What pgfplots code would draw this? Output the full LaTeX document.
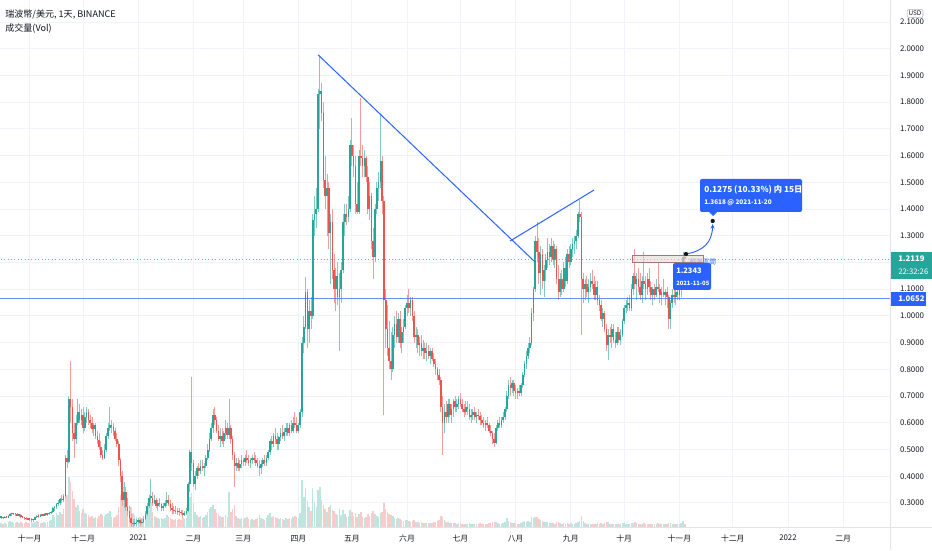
\documentclass[border=0pt]{standalone}
\usepackage{fontspec}
\setmainfont{Noto Sans CJK SC}
\usepackage{pgfplots}
\usepackage{pgfplotstable}
\pgfplotsset{compat=1.18}
\usetikzlibrary{arrows.meta}
\definecolor{tvgreen}{HTML}{26A69A}
\definecolor{tvred}{HTML}{EF5350}
\definecolor{wickg}{HTML}{7FCAC2}
\definecolor{wickr}{HTML}{F39C9A}
\definecolor{volg}{HTML}{BFE5E1}
\definecolor{volr}{HTML}{FACBCA}
\definecolor{tvblue}{HTML}{2962FF}
\definecolor{gridc}{HTML}{F0F3FA}
\definecolor{axc}{HTML}{E0E3EB}
\definecolor{txt}{HTML}{131722}
\pgfplotstableread{
d o h l c v
-16 0.245 0.250 0.240 0.246 4
-15 0.246 0.249 0.241 0.244 3
-14 0.244 0.250 0.242 0.247 4
-13 0.247 0.252 0.243 0.245 3
-12 0.245 0.255 0.244 0.253 5
-11 0.253 0.262 0.250 0.258 6
-10 0.258 0.264 0.253 0.260 5
-9 0.260 0.263 0.254 0.257 4
-8 0.257 0.262 0.252 0.259 4
-7 0.259 0.261 0.250 0.253 5
-6 0.253 0.258 0.247 0.255 4
-5 0.255 0.257 0.243 0.247 5
-4 0.247 0.252 0.242 0.245 4
-3 0.245 0.249 0.238 0.243 4
-2 0.243 0.246 0.236 0.240 5
-1 0.240 0.245 0.235 0.238 4
0 0.238 0.243 0.232 0.240 4
1 0.240 0.242 0.228 0.236 6
2 0.236 0.240 0.230 0.238 4
3 0.238 0.248 0.236 0.246 5
4 0.246 0.256 0.244 0.252 6
5 0.252 0.258 0.245 0.249 5
6 0.249 0.257 0.246 0.255 4
7 0.255 0.260 0.250 0.253 4
8 0.253 0.261 0.251 0.258 5
9 0.258 0.263 0.252 0.256 4
10 0.256 0.262 0.251 0.259 5
11 0.259 0.266 0.255 0.262 6
12 0.262 0.270 0.258 0.266 7
13 0.266 0.285 0.262 0.280 12
14 0.280 0.290 0.270 0.285 10
15 0.285 0.300 0.278 0.296 14
16 0.296 0.310 0.288 0.300 12
17 0.300 0.320 0.292 0.315 15
18 0.315 0.330 0.300 0.310 13
19 0.310 0.335 0.305 0.325 18
20 0.325 0.480 0.320 0.470 30
21 0.470 0.500 0.430 0.455 32
22 0.455 0.700 0.450 0.690 50
23 0.690 0.830 0.600 0.660 45
24 0.660 0.690 0.530 0.560 36
25 0.560 0.600 0.470 0.540 28
26 0.540 0.630 0.520 0.600 20
27 0.600 0.690 0.590 0.640 22
28 0.640 0.670 0.600 0.610 16
29 0.610 0.650 0.590 0.630 14
30 0.630 0.660 0.560 0.580 18
31 0.580 0.640 0.570 0.620 14
32 0.620 0.660 0.600 0.640 13
33 0.640 0.650 0.590 0.610 12
34 0.610 0.630 0.580 0.600 10
35 0.600 0.620 0.560 0.575 11
36 0.575 0.600 0.550 0.590 9
37 0.590 0.600 0.540 0.550 10
38 0.550 0.570 0.520 0.535 9
39 0.535 0.560 0.500 0.510 11
40 0.510 0.530 0.470 0.480 13
41 0.480 0.500 0.460 0.470 12
42 0.470 0.520 0.465 0.500 11
43 0.500 0.560 0.490 0.550 13
44 0.550 0.600 0.540 0.580 14
45 0.580 0.660 0.570 0.590 16
46 0.590 0.610 0.560 0.585 10
47 0.585 0.600 0.550 0.570 9
48 0.570 0.580 0.530 0.540 10
49 0.540 0.560 0.510 0.520 12
50 0.520 0.530 0.440 0.460 20
51 0.460 0.470 0.380 0.400 32
52 0.400 0.420 0.290 0.310 55
53 0.310 0.380 0.280 0.340 40
54 0.340 0.360 0.270 0.285 28
55 0.285 0.320 0.250 0.270 22
56 0.270 0.290 0.230 0.245 18
57 0.245 0.260 0.210 0.225 20
58 0.225 0.240 0.210 0.220 14
59 0.220 0.240 0.215 0.225 12
60 0.225 0.240 0.215 0.230 10
61 0.230 0.245 0.220 0.235 9
62 0.235 0.240 0.215 0.225 10
63 0.225 0.240 0.220 0.230 9
64 0.230 0.250 0.225 0.240 11
65 0.240 0.270 0.235 0.260 15
66 0.260 0.300 0.250 0.290 20
67 0.290 0.330 0.280 0.320 24
68 0.320 0.390 0.300 0.320 25
69 0.320 0.340 0.290 0.300 15
70 0.300 0.330 0.295 0.310 11
71 0.310 0.320 0.280 0.290 10
72 0.290 0.310 0.270 0.300 9
73 0.300 0.320 0.285 0.295 8
74 0.295 0.300 0.270 0.280 9
75 0.280 0.300 0.270 0.290 8
76 0.290 0.310 0.280 0.300 9
77 0.300 0.340 0.290 0.310 12
78 0.310 0.330 0.290 0.295 10
79 0.295 0.310 0.270 0.280 9
80 0.280 0.300 0.260 0.275 8
81 0.275 0.290 0.260 0.270 7
82 0.270 0.290 0.260 0.265 8
83 0.265 0.280 0.255 0.270 7
84 0.270 0.280 0.250 0.265 8
85 0.265 0.275 0.255 0.262 7
86 0.262 0.275 0.245 0.255 9
87 0.255 0.270 0.250 0.262 8
88 0.262 0.280 0.255 0.270 9
89 0.270 0.380 0.265 0.370 20
90 0.370 0.500 0.340 0.490 30
91 0.490 0.770 0.420 0.450 34
92 0.450 0.460 0.360 0.370 24
93 0.370 0.420 0.350 0.400 15
94 0.400 0.440 0.390 0.430 12
95 0.430 0.450 0.400 0.420 10
96 0.420 0.460 0.410 0.440 11
97 0.440 0.460 0.420 0.430 9
98 0.430 0.450 0.400 0.440 10
99 0.440 0.480 0.430 0.470 12
100 0.470 0.520 0.460 0.500 15
101 0.500 0.560 0.490 0.540 18
102 0.540 0.600 0.530 0.580 20
103 0.580 0.650 0.560 0.630 22
104 0.630 0.660 0.590 0.610 18
105 0.610 0.620 0.560 0.570 14
106 0.570 0.590 0.530 0.540 13
107 0.540 0.580 0.510 0.550 11
108 0.550 0.580 0.520 0.530 10
109 0.530 0.570 0.510 0.560 10
110 0.560 0.610 0.540 0.580 12
111 0.580 0.600 0.540 0.555 10
112 0.555 0.690 0.540 0.580 35
113 0.580 0.590 0.520 0.540 15
114 0.540 0.550 0.460 0.480 18
115 0.480 0.490 0.360 0.440 22
116 0.440 0.470 0.420 0.450 11
117 0.450 0.470 0.420 0.430 9
118 0.430 0.460 0.420 0.445 8
119 0.445 0.480 0.430 0.460 9
120 0.460 0.470 0.440 0.455 8
121 0.455 0.480 0.440 0.470 9
122 0.470 0.500 0.450 0.460 10
123 0.460 0.480 0.440 0.450 8
124 0.450 0.470 0.430 0.460 7
125 0.460 0.480 0.445 0.470 8
126 0.470 0.490 0.450 0.460 7
127 0.460 0.480 0.440 0.450 8
128 0.450 0.470 0.430 0.440 9
129 0.440 0.460 0.400 0.430 12
130 0.430 0.460 0.410 0.445 9
131 0.445 0.470 0.435 0.460 8
132 0.460 0.480 0.440 0.450 7
133 0.450 0.480 0.440 0.470 9
134 0.470 0.500 0.460 0.490 12
135 0.490 0.540 0.480 0.530 14
136 0.530 0.550 0.500 0.520 10
137 0.520 0.560 0.510 0.550 11
138 0.550 0.580 0.520 0.540 10
139 0.540 0.560 0.500 0.520 9
140 0.520 0.550 0.500 0.545 8
141 0.545 0.580 0.530 0.560 9
142 0.560 0.590 0.540 0.550 8
143 0.550 0.580 0.530 0.565 7
144 0.565 0.600 0.550 0.580 9
145 0.580 0.600 0.550 0.560 8
146 0.560 0.600 0.550 0.590 9
147 0.590 0.610 0.560 0.570 8
148 0.570 0.620 0.560 0.600 10
149 0.600 0.640 0.580 0.590 11
150 0.590 0.620 0.560 0.570 10
151 0.570 0.600 0.560 0.590 9
152 0.590 0.650 0.580 0.640 14
153 0.640 0.920 0.620 0.900 47
154 0.900 1.000 0.860 0.960 30
155 0.960 1.145 0.950 1.090 39
156 1.090 1.100 0.880 0.950 26
157 0.950 1.060 0.900 1.020 20
158 1.020 1.070 0.950 1.000 16
159 1.000 1.380 0.990 1.360 39
160 1.360 1.450 1.300 1.380 25
161 1.380 1.480 1.330 1.400 20
162 1.400 1.850 1.390 1.830 37
163 1.830 1.976 1.700 1.840 40
164 1.840 1.870 1.730 1.760 27
165 1.760 1.800 1.480 1.510 22
166 1.510 1.600 1.400 1.450 18
167 1.450 1.530 1.300 1.480 15
168 1.480 1.500 1.250 1.310 20
169 1.310 1.380 1.120 1.350 22
170 1.350 1.400 1.140 1.170 17
171 1.170 1.230 1.050 1.100 16
172 1.100 1.180 1.020 1.150 13
173 1.150 1.200 1.040 1.070 12
174 1.070 1.160 0.870 1.100 18
175 1.100 1.200 1.050 1.170 12
176 1.170 1.380 1.160 1.350 17
177 1.350 1.420 1.300 1.380 13
178 1.380 1.420 1.340 1.370 10
179 1.370 1.450 1.350 1.400 11
180 1.400 1.660 1.390 1.640 17
181 1.640 1.740 1.560 1.600 15
182 1.600 1.640 1.520 1.560 11
183 1.560 1.600 1.380 1.420 14
184 1.420 1.500 1.380 1.390 10
185 1.390 1.620 1.380 1.600 13
186 1.600 1.816 1.560 1.590 15
187 1.590 1.640 1.520 1.560 10
188 1.560 1.620 1.520 1.590 9
189 1.590 1.600 1.500 1.520 10
190 1.520 1.560 1.380 1.400 13
191 1.400 1.500 1.360 1.450 11
192 1.450 1.460 1.250 1.280 14
193 1.280 1.330 1.140 1.220 16
194 1.220 1.420 1.200 1.400 13
195 1.400 1.500 1.380 1.480 11
196 1.480 1.540 1.430 1.500 10
197 1.500 1.760 1.480 1.580 14
198 1.580 1.600 1.380 1.430 15
199 1.430 1.450 0.630 1.060 24
200 1.060 1.100 0.880 0.950 18
201 0.950 1.040 0.850 0.880 15
202 0.880 0.980 0.800 0.830 13
203 0.830 0.940 0.760 0.800 12
204 0.800 0.960 0.790 0.930 11
205 0.930 1.000 0.880 0.970 9
206 0.970 1.020 0.900 0.920 8
207 0.920 1.010 0.900 0.990 9
208 0.990 1.020 0.880 0.900 8
209 0.900 0.960 0.860 0.940 7
210 0.940 0.990 0.900 0.960 6
211 0.960 1.040 0.950 1.030 7
212 1.030 1.080 1.000 1.050 7
213 1.050 1.100 1.010 1.030 6
214 1.030 1.070 1.000 1.060 5
215 1.060 1.070 0.980 1.000 6
216 1.000 1.020 0.900 0.920 7
217 0.920 0.960 0.880 0.930 5
218 0.930 0.950 0.860 0.890 5
219 0.890 0.920 0.850 0.900 4
220 0.900 0.930 0.850 0.870 5
221 0.870 0.910 0.840 0.880 4
222 0.880 0.900 0.840 0.860 4
223 0.860 0.900 0.830 0.870 4
224 0.870 0.890 0.840 0.850 4
225 0.850 0.880 0.820 0.870 4
226 0.870 0.880 0.830 0.840 4
227 0.840 0.860 0.810 0.820 5
228 0.820 0.840 0.780 0.800 5
229 0.800 0.810 0.760 0.780 6
230 0.780 0.800 0.740 0.760 7
231 0.760 0.770 0.640 0.660 11
232 0.660 0.700 0.480 0.600 10
233 0.600 0.670 0.560 0.640 7
234 0.640 0.680 0.600 0.620 5
235 0.620 0.690 0.600 0.670 5
236 0.670 0.690 0.620 0.630 4
237 0.630 0.670 0.600 0.650 4
238 0.650 0.690 0.620 0.680 4
239 0.680 0.700 0.640 0.660 4
240 0.660 0.690 0.640 0.670 3
241 0.670 0.700 0.650 0.690 4
242 0.690 0.710 0.660 0.670 4
243 0.670 0.690 0.640 0.650 3
244 0.650 0.670 0.620 0.640 3
245 0.640 0.680 0.630 0.660 3
246 0.660 0.680 0.630 0.650 3
247 0.650 0.670 0.610 0.620 4
248 0.620 0.650 0.600 0.630 3
249 0.630 0.650 0.610 0.640 3
250 0.640 0.660 0.610 0.620 3
251 0.620 0.640 0.600 0.630 3
252 0.630 0.650 0.610 0.625 3
253 0.625 0.640 0.590 0.610 4
254 0.610 0.630 0.590 0.600 3
255 0.600 0.620 0.580 0.590 3
256 0.590 0.610 0.570 0.600 3
257 0.600 0.620 0.580 0.590 3
258 0.590 0.600 0.560 0.570 4
259 0.570 0.590 0.550 0.560 4
260 0.560 0.570 0.520 0.540 5
261 0.540 0.560 0.510 0.525 5
262 0.525 0.590 0.520 0.580 5
263 0.580 0.610 0.570 0.600 4
264 0.600 0.620 0.580 0.590 3
265 0.590 0.620 0.580 0.610 3
266 0.610 0.640 0.600 0.620 4
267 0.620 0.660 0.610 0.650 5
268 0.650 0.720 0.640 0.700 9
269 0.700 0.760 0.690 0.740 6
270 0.740 0.770 0.700 0.730 5
271 0.730 0.760 0.710 0.750 4
272 0.750 0.760 0.700 0.720 4
273 0.720 0.740 0.690 0.710 4
274 0.710 0.730 0.690 0.720 3
275 0.720 0.740 0.700 0.710 3
276 0.710 0.750 0.700 0.740 4
277 0.740 0.790 0.730 0.780 5
278 0.780 0.830 0.770 0.820 6
279 0.820 0.870 0.800 0.850 5
280 0.850 0.900 0.840 0.880 6
281 0.880 0.920 0.860 0.900 5
282 0.900 1.030 0.890 1.010 10
283 1.010 1.110 0.980 1.100 9
284 1.100 1.300 1.090 1.280 10
285 1.280 1.350 1.200 1.240 10
286 1.240 1.290 1.120 1.160 8
287 1.160 1.260 1.080 1.230 7
288 1.230 1.250 1.100 1.130 6
289 1.130 1.190 1.070 1.170 5
290 1.170 1.230 1.130 1.210 5
291 1.210 1.290 1.180 1.240 5
292 1.240 1.270 1.190 1.220 4
293 1.220 1.290 1.200 1.260 4
294 1.260 1.280 1.190 1.210 4
295 1.210 1.270 1.180 1.250 3
296 1.250 1.260 1.120 1.140 5
297 1.140 1.190 1.060 1.090 5
298 1.090 1.160 1.070 1.140 4
299 1.140 1.170 1.080 1.100 3
300 1.100 1.200 1.090 1.180 4
301 1.180 1.220 1.110 1.130 3
302 1.130 1.250 1.120 1.230 4
303 1.230 1.260 1.180 1.200 3
304 1.200 1.270 1.190 1.250 4
305 1.250 1.290 1.220 1.270 3
306 1.270 1.300 1.230 1.280 3
307 1.280 1.320 1.250 1.300 4
308 1.300 1.390 1.290 1.380 5
309 1.380 1.434 1.350 1.370 6
310 1.370 1.390 0.930 1.140 11
311 1.140 1.160 1.050 1.100 6
312 1.100 1.140 1.060 1.120 4
313 1.120 1.150 1.070 1.090 3
314 1.090 1.140 1.050 1.110 3
315 1.110 1.160 1.090 1.130 3
316 1.130 1.170 1.100 1.120 3
317 1.120 1.150 1.060 1.080 3
318 1.080 1.130 1.060 1.110 3
319 1.110 1.130 1.040 1.060 4
320 1.060 1.080 1.020 1.040 3
321 1.040 1.060 0.980 0.990 4
322 0.990 1.030 0.960 1.010 3
323 1.010 1.020 0.940 0.950 4
324 0.950 0.970 0.870 0.890 5
325 0.890 0.950 0.835 0.930 5
326 0.930 0.960 0.900 0.920 3
327 0.920 0.970 0.880 0.950 3
328 0.950 0.970 0.900 0.910 3
329 0.910 0.940 0.880 0.900 3
330 0.900 0.960 0.890 0.940 3
331 0.940 0.960 0.900 0.910 3
332 0.910 0.950 0.890 0.930 3
333 0.930 0.990 0.920 0.980 4
334 0.980 1.040 0.970 1.030 4
335 1.030 1.060 1.010 1.040 3
336 1.040 1.070 1.020 1.050 3
337 1.050 1.080 1.020 1.030 3
338 1.030 1.120 1.020 1.100 4
339 1.100 1.160 1.080 1.150 4
340 1.150 1.250 1.100 1.120 5
341 1.120 1.160 1.060 1.140 4
342 1.140 1.180 1.090 1.110 3
343 1.110 1.160 1.060 1.080 3
344 1.080 1.150 1.050 1.130 3
345 1.130 1.240 1.100 1.120 4
346 1.120 1.150 1.060 1.100 3
347 1.100 1.160 1.080 1.140 3
348 1.140 1.180 1.090 1.110 3
349 1.110 1.130 1.060 1.080 3
350 1.080 1.110 1.040 1.100 3
351 1.100 1.120 1.060 1.080 3
352 1.080 1.140 1.070 1.110 3
353 1.110 1.200 1.090 1.100 4
354 1.100 1.120 1.050 1.080 3
355 1.080 1.110 1.040 1.090 3
356 1.090 1.140 1.070 1.080 3
357 1.080 1.100 1.040 1.090 3
358 1.090 1.110 1.030 1.070 3
359 1.070 1.080 0.950 0.990 4
360 0.990 1.060 0.950 1.050 4
361 1.050 1.100 1.030 1.080 3
362 1.080 1.100 1.050 1.070 3
363 1.070 1.110 1.040 1.090 3
364 1.090 1.120 1.060 1.080 3
365 1.080 1.130 1.060 1.100 3
366 1.100 1.140 1.070 1.120 4
367 1.120 1.240 1.110 1.220 6
368 1.220 1.234 1.190 1.212 3
}\data
\pgfplotsset{candle/.style={draw=none, mark=none, forget plot}}
\begin{document}
\begin{tikzpicture}
\useasboundingbox (0,0) rectangle (699pt,412.5pt);
\fill[white] (0,0) rectangle (699pt,412.5pt);
\begin{axis}[
  at={(0pt,17.25pt)}, anchor=south west, scale only axis,
  width=667.5pt, height=395.25pt,
  xmin=-16.685, xmax=483.31, ymin=0.21, ymax=2.1823,
  axis line style={draw=none},
  major tick length=0pt,
  grid=major, major grid style={draw=gridc, line width=0.7pt},
  xtick={0,30,61,92,120,151,181,212,242,273,304,334,365,395,426,457},
  xticklabels={十一月,十二月,2021,二月,三月,四月,五月,六月,七月,八月,九月,十月,十一月,十二月,2022,二月},
  ytick={0.3,0.4,0.5,0.6,0.7,0.8,0.9,1.0,1.1,1.2,1.3,1.4,1.5,1.6,1.7,1.8,1.9,2.0,2.1},
  yticklabels={0.3000,0.4000,0.5000,0.6000,0.7000,0.8000,0.9000,1.0000,1.1000,{},1.3000,1.4000,1.5000,1.6000,1.7000,1.8000,1.9000,2.0000,2.1000},
  yticklabel pos=right,
  tick label style={font=\fontsize{5.9}{6}\selectfont, text=txt},
  yticklabel style={anchor=west, xshift=4pt},
  xticklabel style={anchor=north, yshift=-2.5pt},
]
% volume
\addplot[candle, restrict expr to domain={\thisrow{c}-\thisrow{o}}{0:10},
  error bars/.cd, y dir=plus, y explicit, error mark=none, error bar style={draw=volg, line width=1.15pt}]
  table[x=d, y expr=0.21, y error plus expr={\thisrow{v}/267.2}] {\data};
\addplot[candle, restrict expr to domain={\thisrow{c}-\thisrow{o}}{-10:-0.00001},
  error bars/.cd, y dir=plus, y explicit, error mark=none, error bar style={draw=volr, line width=1.15pt}]
  table[x=d, y expr=0.21, y error plus expr={\thisrow{v}/267.2}] {\data};
% wicks
\addplot[candle, restrict expr to domain={\thisrow{c}-\thisrow{o}}{0:10},
  error bars/.cd, y dir=plus, y explicit, error mark=none, error bar style={draw=wickg, line width=0.65pt}]
  table[x=d, y=l, y error plus expr={\thisrow{h}-\thisrow{l}}] {\data};
\addplot[candle, restrict expr to domain={\thisrow{c}-\thisrow{o}}{-10:-0.00001},
  error bars/.cd, y dir=plus, y explicit, error mark=none, error bar style={draw=wickr, line width=0.65pt}]
  table[x=d, y=l, y error plus expr={\thisrow{h}-\thisrow{l}}] {\data};
% bodies
\addplot[candle, restrict expr to domain={\thisrow{c}-\thisrow{o}}{0:10},
  error bars/.cd, y dir=plus, y explicit, error mark=none, error bar style={draw=tvgreen, line width=1.2pt}]
  table[x=d, y expr={min(\thisrow{o},\thisrow{c})}, y error plus expr={max(abs(\thisrow{c}-\thisrow{o}),0.005)}] {\data};
\addplot[candle, restrict expr to domain={\thisrow{c}-\thisrow{o}}{-10:-0.00001},
  error bars/.cd, y dir=plus, y explicit, error mark=none, error bar style={draw=tvred, line width=1.2pt}]
  table[x=d, y expr={min(\thisrow{o},\thisrow{c})}, y error plus expr={max(abs(\thisrow{c}-\thisrow{o}),0.005)}] {\data};
% drawings
\draw[tvblue, line width=0.75pt] (axis cs:162.0,1.977) -- (axis cs:283.9,1.2018);
\draw[tvblue, line width=0.75pt] (axis cs:269.8,1.280) -- (axis cs:317.0,1.471);
\draw[tvblue, opacity=0.7, line width=1.2pt] (axis cs:-20,1.0652) -- (axis cs:490,1.0652);
\draw[tvgreen!75, dotted, line width=0.55pt] (axis cs:-20,1.2119) -- (axis cs:490,1.2119);
\end{axis}
\begin{scope}[shift={(0pt,412.5pt)}, x=0.75pt, y=-0.75pt]
\draw[axc, line width=0.75pt] (0,527) -- (932,527);
\draw[axc, line width=0.75pt] (890,0) -- (890,550);
\node[anchor=west, text=txt, font=\fontsize{6.8}{8}\selectfont, inner sep=0pt] at (5,15) {瑞波幣/美元, 1天, BINANCE};
\node[anchor=west, text=txt, font=\fontsize{6.8}{8}\selectfont, inner sep=0pt] at (5,29) {成交量(Vol)};
\node[draw={rgb,255:red,178;green,181;blue,190}, fill=white, rounded corners=1.5pt, inner sep=1.2pt, text=txt, font=\fontsize{4.8}{5}\selectfont] at (915,13.5) {USD};
% price labels
\fill[tvgreen] (891,252) rectangle (932,279);
\node[anchor=west, text=white, inner sep=0pt, font=\fontsize{5.8}{6}\selectfont\bfseries] at (898,259) {1.2119};
\node[anchor=west, text=white, inner sep=0pt, font=\fontsize{5.8}{6}\selectfont] at (898,272) {22:32:26};
\fill[tvblue] (891,292) rectangle (926,306);
\node[anchor=west, text=white, inner sep=0pt, font=\fontsize{5.8}{6}\selectfont\bfseries] at (898,299) {1.0652};
% forecast tool
\node[anchor=west, text=tvblue, inner sep=0pt, font=\fontsize{5}{5}\selectfont] at (689,262) {預測區間};
\draw[draw={rgb,255:red,160;green,120;blue,120}, fill={rgb,255:red,230;green,215;blue,215}, fill opacity=0.6, line width=0.5pt] (632,255) rectangle (703,262);
\fill[tvblue, rounded corners=1.5pt] (673,263) rectangle (711,290);
\node[anchor=west, text=white, inner sep=0pt, font=\fontsize{5.6}{6}\selectfont\bfseries] at (676,271) {1.2343};
\node[anchor=west, text=white, inner sep=0pt, font=\fontsize{4.4}{5}\selectfont\bfseries] at (676,283) {2021-11-05};
\draw[tvblue, line width=0.7pt, -{Stealth[length=3.5pt,width=3pt]}] (686,254) .. controls (703,251) and (712,243) .. (712.7,224);
\fill[txt] (686,254) circle[radius=1.6pt];
\fill[txt] (712.7,221) circle[radius=1.6pt];
\fill[tvblue, rounded corners=1.5pt] (700,179) rectangle (802,212);
\fill[tvblue] (708,211) -- (718,211) -- (713,216) -- cycle;
\node[anchor=west, text=white, inner sep=0pt, font=\fontsize{6.2}{7}\selectfont\bfseries] at (704,189.5) {0.1275 (10.33\%) 内 15日};
\node[anchor=west, text=white, inner sep=0pt, font=\fontsize{4.8}{5}\selectfont\bfseries] at (704,203) {1.3618 @ 2021-11-20};
\end{scope}
\end{tikzpicture}
\end{document}
